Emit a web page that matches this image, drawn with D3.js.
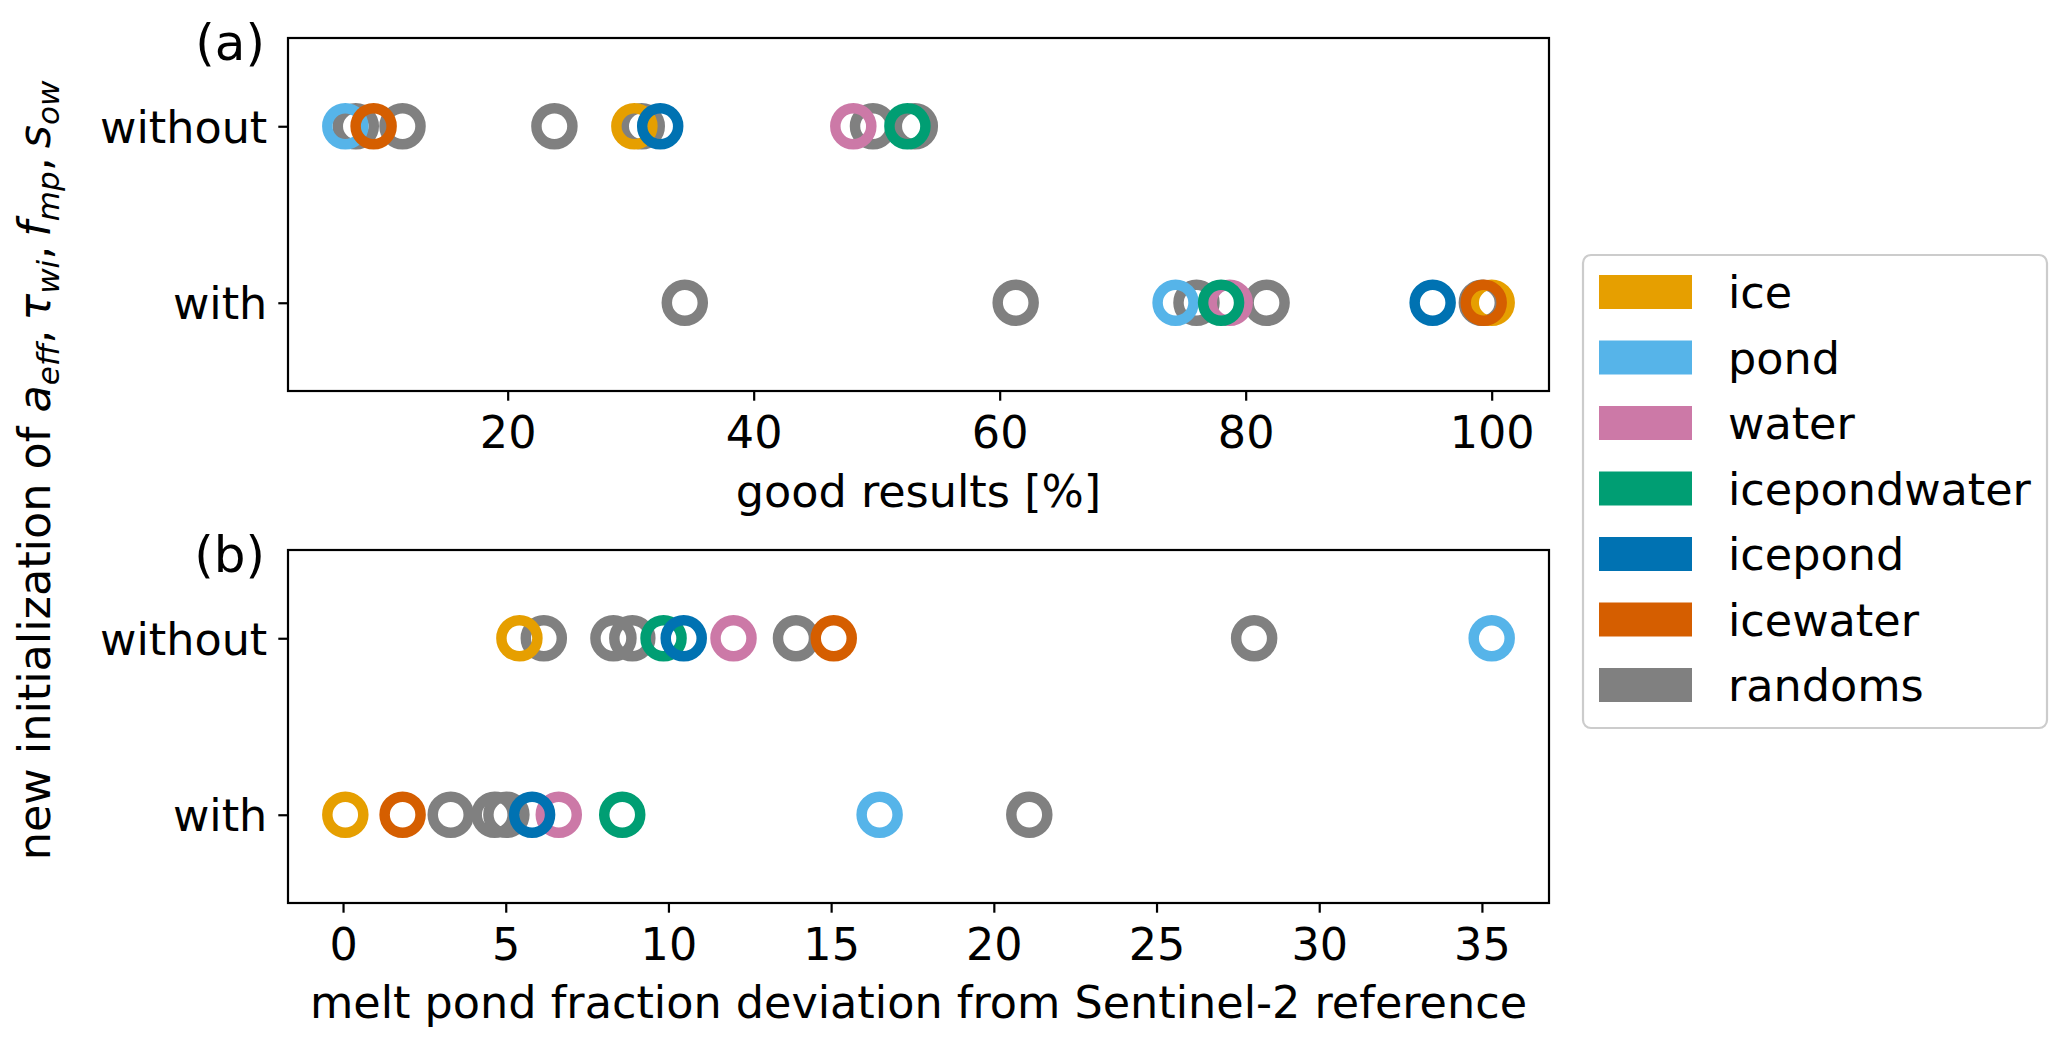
<!DOCTYPE html>
<html>
<head>
<meta charset="utf-8">
<script src="https://cdn.jsdelivr.net/npm/d3@7"></script>
<style>
  body { margin: 0; background: #fff; overflow: hidden; }
  svg { display: block; }
  text { font-family: "DejaVu Sans", sans-serif; fill: #000; }
</style>
</head>
<body>
<div id="chart"></div>
<script>
// y categories
var rows = ["without", "with"];

// legend / colours (randoms drawn in grey)
var seriesNames = ["ice", "pond", "water", "icepondwater", "icepond", "icewater", "randoms"];
var seriesColors = ["#E69F00", "#56B4E9", "#CC79A7", "#009E73", "#0072B2", "#D55E00", "#808080"];

// (a) good results [%], order: ice, pond, water, icepondwater, icepond, icewater
var goodWithout = [30.3, 6.8, 48.1, 52.5, 32.4, 9.1];
var goodWith = [100.0, 74.3, 78.7, 78.0, 95.2, 99.35];
var goodRandomsWithout = [7.65, 11.45, 23.8, 30.9, 49.7, 53.1];
var goodRandomsWith = [34.4, 61.3, 76.0, 81.7, 99.2];
var goodTicks = [20, 40, 60, 80, 100];

// (b) melt pond fraction deviation, same order
var devWithout = [5.42, 35.3, 12.0, 9.85, 10.47, 15.08];
var devWith = [0.07, 16.49, 6.63, 8.58, 5.81, 1.83];
var devRandomsWithout = [6.17, 8.31, 8.89, 13.92, 28.0];
var devRandomsWith = [3.31, 4.66, 5.02, 21.09];
var devTicks = [0, 5, 10, 15, 20, 25, 30, 35];

var W = 2067, H = 1046;
var left = 288, right = 1549;
var fs = 44.5;

var svg = d3.select("#chart")
  .append("svg")
    .attr("width", W)
    .attr("height", H);

function drawPanel(p) {
  var g = svg.append("g");

  // all values -> matplotlib style 5% margins
  var all = p.without.concat(p.with, p.rWithout, p.rWith);
  var ext = d3.extent(all);
  var pad = (ext[1] - ext[0]) * 0.05;

  var x = d3.scaleLinear()
    .domain([ext[0] - pad, ext[1] + pad])
    .range([left, right]);

  var y = d3.scalePoint()
    .domain(rows)
    .range([p.top, p.bottom])
    .padding(0.5);

  // points: randoms first, then the named series on top
  var pts = [];
  p.rWithout.forEach(function(v) { pts.push({row: "without", v: v, c: seriesColors[6]}); });
  p.rWith.forEach(function(v) { pts.push({row: "with", v: v, c: seriesColors[6]}); });
  for (var i = 0; i < 6; i++) {
    pts.push({row: "without", v: p.without[i], c: seriesColors[i]});
    pts.push({row: "with", v: p.with[i], c: seriesColors[i]});
  }

  g.selectAll("circle.pt")
    .data(pts)
    .enter()
    .append("circle")
      .attr("class", "pt")
      .attr("cx", function(d) { return x(d.v); })
      .attr("cy", function(d) { return y(d.row); })
      .attr("r", 18)
      .attr("fill", "none")
      .attr("stroke", function(d) { return d.c; })
      .attr("stroke-width", 10.5);

  // x axis
  var xa = g.append("g")
    .attr("transform", "translate(0," + p.bottom + ")")
    .call(d3.axisBottom(x).tickValues(p.ticks).tickSize(9.7).tickPadding(16).tickSizeOuter(0));
  xa.select(".domain").remove();
  xa.attr("font-size", fs).attr("font-family", "DejaVu Sans");
  xa.selectAll("line").attr("stroke", "#000").attr("stroke-width", 2.2);
  xa.selectAll("text").attr("fill", "#000");

  // y axis
  var ya = g.append("g")
    .attr("transform", "translate(" + left + ",0)")
    .call(d3.axisLeft(y).tickSize(9.7).tickPadding(11).tickSizeOuter(0));
  ya.select(".domain").remove();
  ya.attr("font-size", fs).attr("font-family", "DejaVu Sans");
  ya.selectAll("line").attr("stroke", "#000").attr("stroke-width", 2.2);
  ya.selectAll("text").attr("fill", "#000").attr("dy", "0.36em");

  // frame
  g.append("rect")
    .attr("x", left).attr("y", p.top)
    .attr("width", right - left).attr("height", p.bottom - p.top)
    .attr("fill", "none").attr("stroke", "#000").attr("stroke-width", 2.2);

  g.append("text")
    .attr("x", (left + right) / 2).attr("y", p.xlabelY)
    .attr("text-anchor", "middle").style("font-size", fs + "px")
    .text(p.xlabel);

  g.append("text")
    .attr("x", 265).attr("y", p.top + 22)
    .attr("text-anchor", "end").style("font-size", "50px")
    .text(p.label);
}

drawPanel({top: 38, bottom: 391, label: "(a)", xlabel: "good results [%]", xlabelY: 507,
  without: goodWithout, with: goodWith, rWithout: goodRandomsWithout, rWith: goodRandomsWith, ticks: goodTicks});

drawPanel({top: 550, bottom: 903, label: "(b)", xlabel: "melt pond fraction deviation from Sentinel-2 reference", xlabelY: 1018,
  without: devWithout, with: devWith, rWithout: devRandomsWithout, rWith: devRandomsWith, ticks: devTicks});

// shared y label with math subscripts (mathtext: comma + thin space)
var yl = svg.append("text")
  .attr("transform", "translate(50," + ((38 + 903) / 2) + ") rotate(-90)")
  .attr("text-anchor", "middle")
  .style("font-size", fs + "px");
yl.append("tspan").text("new initialization of ");
var parts = [["a", "eff"], ["\u03c4", "wi"], ["f", "mp"], ["s", "ow"]];
parts.forEach(function(pt, i) {
  yl.append("tspan").style("font-style", "italic").text(pt[0]);
  yl.append("tspan").style("font-style", "italic").style("font-size", "31px").attr("dy", 9).text(pt[1]);
  yl.append("tspan").attr("dy", -9).text(i < parts.length - 1 ? ",\u2009" : "");
});

// legend
var lg = svg.append("g");
lg.append("rect")
  .attr("x", 1583).attr("y", 255)
  .attr("width", 464).attr("height", 473)
  .attr("rx", 8).attr("ry", 8)
  .attr("fill", "#fff").attr("fill-opacity", 0.8)
  .attr("stroke", "#cccccc").attr("stroke-width", 2.2);

var ly = d3.scalePoint().domain(seriesNames).range([292, 685]);

lg.selectAll("rect.sw")
  .data(seriesNames)
  .enter()
  .append("rect")
    .attr("class", "sw")
    .attr("x", 1599).attr("width", 93)
    .attr("y", function(d) { return ly(d) - 17; })
    .attr("height", 34)
    .attr("fill", function(d, i) { return seriesColors[i]; });

lg.selectAll("text.lt")
  .data(seriesNames)
  .enter()
  .append("text")
    .attr("class", "lt")
    .attr("x", 1728)
    .attr("y", function(d) { return ly(d) + 16; })
    .style("font-size", fs + "px")
    .text(function(d) { return d; });
</script>
</body>
</html>
